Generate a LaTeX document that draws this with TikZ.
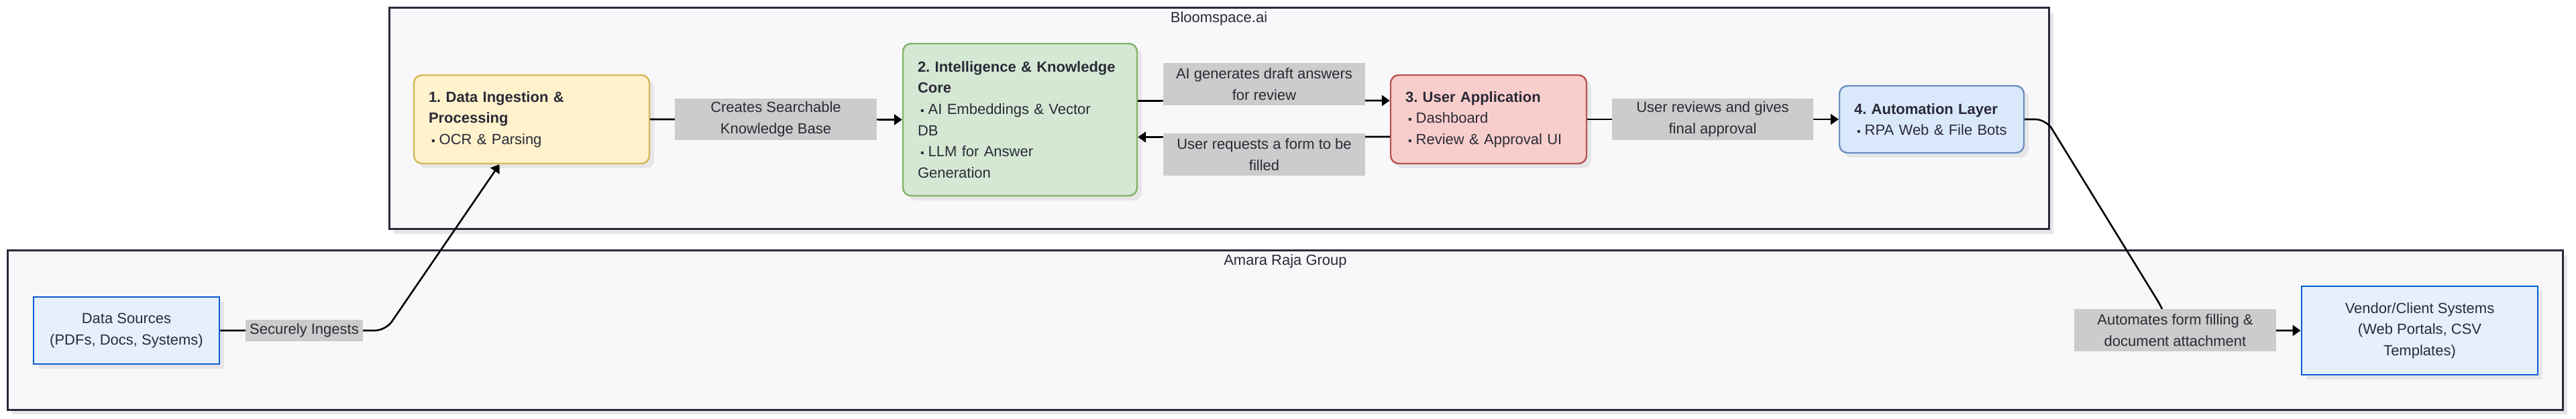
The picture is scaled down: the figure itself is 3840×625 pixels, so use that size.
\documentclass[tikz,border=0pt]{standalone}
\usepackage{fontspec}
\setmainfont{Liberation Sans}
\usetikzlibrary{arrows.meta,shadows}
\definecolor{ink}{HTML}{2A2A36}
\definecolor{frame}{HTML}{2A2A3C}
\definecolor{clusterfill}{HTML}{F8F8FA}
\definecolor{liftgray}{HTML}{E6E6E8}
\definecolor{taggray}{HTML}{CCCCCC}
\definecolor{ingestfill}{HTML}{FFF2CC}
\definecolor{ingestline}{HTML}{D6B656}
\definecolor{corefill}{HTML}{D5E8D4}
\definecolor{coreline}{HTML}{82B366}
\definecolor{appfill}{HTML}{F8CECC}
\definecolor{appline}{HTML}{B85450}
\definecolor{botfill}{HTML}{DAE8FC}
\definecolor{botline}{HTML}{6C8EBF}
\definecolor{srcfill}{HTML}{E6F0FD}
\definecolor{srcline}{HTML}{0B5BD3}
\newcommand{\itm}{\hspace*{2pt}{\fontsize{8}{8}\selectfont ▪}\hspace{3pt}}
\frenchspacing
\begin{document}
\begin{tikzpicture}[x=0.5pt,y=-0.5pt,
    font=\fontsize{11}{15.8}\selectfont,text=ink,
    lift/.style={drop shadow={shadow xshift=3.5pt,shadow yshift=-3.5pt,fill=liftgray,opacity=1}},
    cluster/.style={draw=frame,fill=clusterfill,line width=1.5pt,lift,inner sep=0pt},
    stage/.style={rounded corners=6pt,line width=1.2pt,lift,align=left,inner xsep=11pt,inner ysep=0pt},
    source/.style={draw=srcline,fill=srcfill,line width=1.4pt,lift,align=center,inner sep=0pt},
    tag/.style={fill=taggray,align=center,inner sep=0pt},
    link/.style={line width=1.3pt,-{Triangle[length=6pt,width=8pt]}}]

        \useasboundingbox (0,0) rectangle (3840,625);
        \fill[white] (0,0) rectangle (3840,625);

        \node[cluster,minimum width=1237pt,minimum height=165pt] (bloom) at (1817,177) {};
        \node[cluster,minimum width=1904.5pt,minimum height=118.5pt] (amara) at (1915.5,492.5) {};
        \node (bloomtitle) at (1817,28) {Bloomspace.ai};
        \node (amaratitle) at (1916,390) {Amara Raja Group};

        \node[stage,draw=ingestline,fill=ingestfill,text width=153.5pt,minimum height=66pt] (ingest) at (792.5,178)
            {\textbf{1. Data Ingestion \&}\\\textbf{Processing}\\\itm OCR \& Parsing};
        \node[stage,draw=coreline,fill=corefill,text width=152.5pt,minimum height=113.5pt] (core) at (1520.5,178.5)
            {\textbf{2. Intelligence \& Knowledge}\\\textbf{Core}\\\itm AI Embeddings \& Vector\\DB\\\itm LLM for Answer\\Generation};
        \node[stage,draw=appline,fill=appfill,text width=124pt,minimum height=66pt] (app) at (2219,178)
            {\textbf{3. User Application}\\\itm Dashboard\\\itm Review \& Approval UI};
        \node[stage,draw=botline,fill=botfill,text width=115.5pt,minimum height=50pt] (bots) at (2879.5,178)
            {\textbf{4. Automation Layer}\\\itm RPA Web \& File Bots};
        \node[source,minimum width=138.5pt,minimum height=50pt] (sources) at (188.5,493)
            {Data Sources\\(PDFs, Docs, Systems)};
        \node[source,minimum width=176pt,minimum height=66pt] (vendor) at (3607,493)
            {Vendor/Client Systems\\(Web Portals, CSV\\Templates)};

        \coordinate (srcbend) at (575,493);
        \coordinate (botbend) at (3050,178);
        \coordinate (botdrop) at (3224,461);
        \coordinate (botfoot) at (3236,493);

        \draw[link] (ingest.east) -- (core.west);
        \draw[link] ([yshift=14pt]core.east) -- ([yshift=14pt]app.west);
        \draw[link] ([yshift=-13pt]app.west) -- ([yshift=-13pt]core.east);
        \draw[link] (app.east) -- (bots.west);
        \draw[link,rounded corners=8pt] (sources.east) -- (srcbend) -- ([xshift=-24pt]ingest.south);
        \draw[link,rounded corners=8pt] (bots.east) -- (botbend) -- (botdrop) -- (botfoot) -- (vendor.west);

        \node[tag,minimum width=150.5pt,minimum height=31pt] (searchtag) at (1156.5,178) {Creates Searchable\\Knowledge Base};
        \node[tag,minimum width=150.5pt,minimum height=31.5pt] (drafttag) at (1884.5,125.5) {AI generates draft answers\\for review};
        \node[tag,minimum width=150.5pt,minimum height=31.5pt] (requesttag) at (1884.5,230.5) {User requests a form to be\\filled};
        \node[tag,minimum width=150pt,minimum height=31pt] (approvetag) at (2553,178) {User reviews and gives\\final approval};
        \node[tag,minimum width=150.5pt,minimum height=31.5pt] (filltag) at (3242.5,492.5) {Automates form filling \&\\document attachment};
        \node[tag,minimum width=87.5pt,minimum height=16pt] (ingesttag) at (453.5,493) {Securely Ingests};

\end{tikzpicture}
\end{document}
